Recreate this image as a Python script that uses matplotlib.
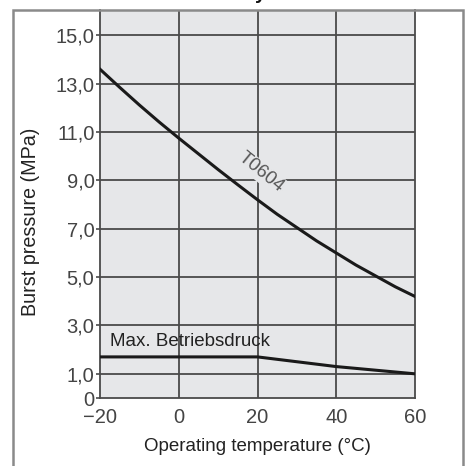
import numpy as np
import matplotlib.pyplot as plt
from matplotlib.patches import Rectangle

plt.rcParams['font.family'] = ['Liberation Sans', 'DejaVu Sans']

# Data
temps = [-20, -15, -10, -5, 0, 5, 10, 15, 20, 25, 30, 35, 40, 45, 50, 55, 60]
burst_t0604 = [13.6, 12.85, 12.12, 11.42, 10.75, 10.1, 9.45, 8.82, 8.2,
               7.6, 7.05, 6.5, 6.0, 5.5, 5.05, 4.6, 4.2]
max_temps = [-20, 0, 20, 40, 60]
max_pressure = [1.7, 1.7, 1.7, 1.3, 1.0]

x_ticks = [-20, 0, 20, 40, 60]
y_ticks = [0, 1, 3, 5, 7, 9, 11, 13, 15]
y_labels = ['0', '1,0', '3,0', '5,0', '7,0', '9,0', '11,0', '13,0', '15,0']

W, H = 470, 466
bg = '#e6e7e9'
fig = plt.figure(figsize=(W / 100, H / 100), dpi=100)

# axes in pixel placement: x 100..415, y 10..398
ax = fig.add_axes([100 / W, 1 - 398 / H, 315 / W, 388 / H])
ax.set_facecolor(bg)

grid_col = '#4a4a4a'
for v in x_ticks[1:-1]:
    ax.axvline(v, color=grid_col, lw=1.3, zorder=1)
for v in y_ticks[1:]:
    ax.axhline(v, color=grid_col, lw=1.3, zorder=1)

ax.plot(temps, burst_t0604, color='#1a1a1a', lw=2.2, zorder=3)
ax.plot(max_temps, max_pressure, color='#1a1a1a', lw=2.2, zorder=3)

ax.text(20.8, 9.35, 'T0604', rotation=-39, fontsize=13.5, color='#555555',
        ha='center', va='center', zorder=2,
        bbox=dict(facecolor=bg, edgecolor='none', pad=1))
ax.text(-17.5, 2.35, 'Max. Betriebsdruck', fontsize=13.5, color='#222222',
        ha='left', va='center')

ax.set_xlim(-20, 60)
ax.set_ylim(0, 16.05)
ax.set_xticks(x_ticks)
ax.set_xticklabels(['\u221220', '0', '20', '40', '60'])
ax.set_yticks(y_ticks)
ax.set_yticklabels(y_labels)
ax.tick_params(axis='x', length=0, pad=7, labelsize=14.5, labelcolor='#444444')
ax.tick_params(axis='y', length=3, width=1.2, color=grid_col, pad=1,
               labelsize=14.5, labelcolor='#444444')

for side in ['left', 'bottom', 'right']:
    ax.spines[side].set_color(grid_col)
    ax.spines[side].set_linewidth(1.3)
ax.spines['top'].set_visible(False)

ax.set_xlabel('Operating temperature (\u00b0C)', fontsize=13.5, color='#222222',
              labelpad=8)
ax.set_ylabel('Burst pressure (MPa)', fontsize=14.2, color='#222222')
ax.yaxis.set_label_coords(-60 / 315, (398 - 222) / 388)

# outer frame around the figure, open at the bottom
frame = Rectangle((13 / W, -0.05), 450 / W, 1.05 - 10 / H,
                  transform=fig.transFigure, fill=False,
                  edgecolor='#8a8a8a', lw=1.8, zorder=0)
fig.patches.append(frame)

# cut-off title fragment at the very top (only its descender shows)
fig.text(260 / W, 1.0 + 1 / H, 'y', fontsize=14, fontweight='bold',
         color='#111111', ha='center', va='baseline')

fig.savefig('out.png', dpi=100)
